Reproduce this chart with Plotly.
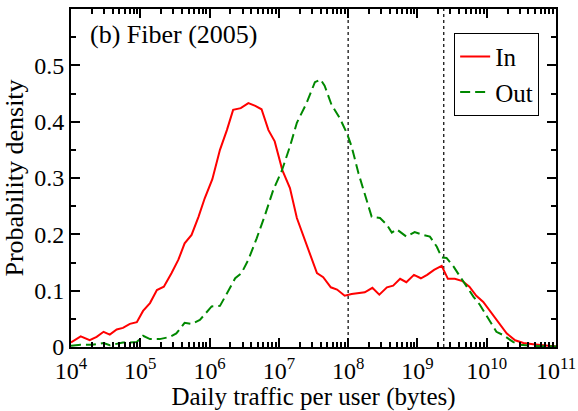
import plotly.graph_objects as go

# log10(bytes) positions and densities
in_logx = [4.0, 4.14, 4.27, 4.37, 4.47, 4.56, 4.66, 4.75, 4.85, 4.95, 5.04, 5.14, 5.24, 5.34, 5.45,
           5.55, 5.64, 5.74, 5.84, 5.93, 6.04, 6.15, 6.25, 6.34, 6.45, 6.56, 6.66, 6.75, 6.85, 6.94,
           7.05, 7.16, 7.26, 7.35, 7.45, 7.55, 7.64, 7.75, 7.84, 7.95, 8.05, 8.15, 8.24, 8.35, 8.45,
           8.56, 8.65, 8.75, 8.84, 8.95, 9.05, 9.14, 9.24, 9.35, 9.44, 9.54, 9.65, 9.75, 9.85, 9.95,
           10.07, 10.19, 10.29, 10.41, 10.53, 10.67, 10.86, 11.0]
in_y = [0.008, 0.019, 0.012, 0.018, 0.027, 0.022, 0.031, 0.034, 0.041, 0.044, 0.064, 0.078, 0.101, 0.107, 0.131,
        0.155, 0.184, 0.199, 0.231, 0.264, 0.298, 0.350, 0.385, 0.421, 0.424, 0.433, 0.428, 0.422, 0.385, 0.365,
        0.314, 0.282, 0.229, 0.199, 0.168, 0.131, 0.124, 0.106, 0.102, 0.091, 0.094, 0.096, 0.097, 0.105, 0.093,
        0.106, 0.109, 0.121, 0.115, 0.128, 0.122, 0.128, 0.137, 0.144, 0.121, 0.121, 0.117, 0.107, 0.091, 0.080,
        0.060, 0.039, 0.024, 0.012, 0.007, 0.005, 0.002, 0.001]

out_logx = [4.0, 4.14, 4.3, 4.47, 4.56, 4.66, 4.75, 4.85, 4.95, 5.04, 5.14, 5.28, 5.43, 5.52, 5.64,
            5.74, 5.86, 6.03, 6.15, 6.25, 6.37, 6.46, 6.56, 6.68, 6.80, 6.92, 7.04, 7.16, 7.26, 7.40,
            7.52, 7.60, 7.66, 7.76, 7.88, 7.98, 8.05, 8.15, 8.24, 8.34, 8.46, 8.56, 8.63, 8.70, 8.84,
            8.96, 9.08, 9.18, 9.28, 9.35, 9.42, 9.52, 9.61, 9.71, 9.81, 9.90, 10.02, 10.14, 10.24, 10.38,
            10.48, 10.67, 11.0]
out_y = [0.002, 0.004, 0.004, 0.007, 0.003, 0.006, 0.008, 0.008, 0.009, 0.020, 0.014, 0.014, 0.018, 0.024, 0.043,
         0.041, 0.048, 0.072, 0.073, 0.095, 0.122, 0.131, 0.155, 0.193, 0.234, 0.279, 0.312, 0.356, 0.398, 0.433,
         0.470, 0.475, 0.464, 0.430, 0.406, 0.380, 0.356, 0.308, 0.270, 0.231, 0.229, 0.217, 0.203, 0.209, 0.196,
         0.204, 0.199, 0.196, 0.178, 0.159, 0.158, 0.143, 0.126, 0.107, 0.089, 0.075, 0.051, 0.027, 0.021, 0.009,
         0.004, 0.002, 0.001]

vline_logx = [8.0, 9.38]
x_tick_exp = [4, 5, 6, 7, 8, 9, 10, 11]
y_ticks = [0, 0.1, 0.2, 0.3, 0.4, 0.5]

FONT = "Liberation Serif"

fig = go.Figure()
for vx in vline_logx:
    fig.add_trace(go.Scatter(x=[10 ** vx, 10 ** vx], y=[0, 0.6], mode="lines",
                             line=dict(color="black", width=1.2, dash="dot"),
                             showlegend=False, hoverinfo="skip"))
fig.add_trace(go.Scatter(x=[10 ** v for v in in_logx], y=in_y, mode="lines", name="In",
                         line=dict(color="#ff0000", width=2)))
fig.add_trace(go.Scatter(x=[10 ** v for v in out_logx], y=out_y, mode="lines", name="Out",
                         line=dict(color="#008800", width=2, dash="10px,5px")))

axis_common = dict(showline=True, linecolor="black", linewidth=2, mirror="ticks",
                   ticks="inside", tickcolor="black", showgrid=False, zeroline=False,
                   automargin=False)

fig.update_xaxes(type="log", range=[4, 11],
                 tickvals=[10 ** e for e in x_tick_exp],
                 ticktext=[f"10<sup>{e}</sup>" for e in x_tick_exp],
                 tickfont=dict(family=FONT, size=24, color="black"),
                 ticklabelstandoff=1,
                 ticklen=9, tickwidth=1.5,
                 minor=dict(ticks="inside", ticklen=5, tickcolor="black", dtick="D1", showgrid=False),
                 title=dict(text="Daily traffic per user (bytes)", font=dict(family=FONT, size=25, color="black"),
                            standoff=0),
                 **axis_common)
fig.update_yaxes(range=[0, 0.6], tickvals=y_ticks, ticktext=["0", "0.1", "0.2", "0.3", "0.4", "0.5"],
                 tickfont=dict(family=FONT, size=24, color="black"),
                 ticklen=9, tickwidth=1.5,
                 minor=dict(ticks="inside", ticklen=5, tickcolor="black", dtick=0.05, showgrid=False),
                 title=dict(text="Probability density", font=dict(family=FONT, size=26, color="black"),
                            standoff=4),
                 **axis_common)

fig.add_annotation(text="(b) Fiber (2005)", xref="paper", yref="paper", x=0.035, y=0.925,
                   xanchor="left", yanchor="middle", showarrow=False,
                   font=dict(family=FONT, size=26, color="black"))

fig.update_layout(
    width=578, height=411,
    margin=dict(l=71, r=22, t=9, b=64),
    plot_bgcolor="white", paper_bgcolor="white",
    font=dict(family=FONT, color="black"),
    legend=dict(x=0.79, y=0.93, xanchor="left", yanchor="top",
                bordercolor="black", borderwidth=1, bgcolor="white",
                font=dict(family=FONT, size=25, color="black"),
                tracegroupgap=0, itemwidth=30),
)

fig.write_html("out.html")
